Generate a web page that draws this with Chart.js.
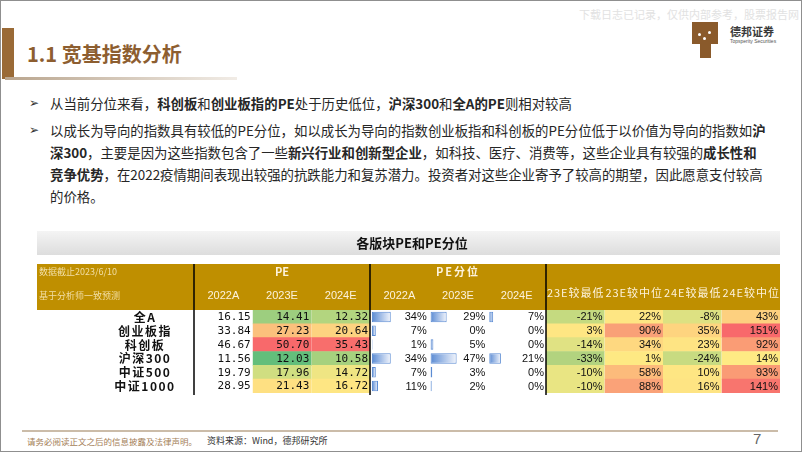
<!DOCTYPE html>
<html>
<head>
<meta charset="utf-8">
<script src="https://cdn.jsdelivr.net/npm/chart.js@4.4.1/dist/chart.umd.min.js"></script>
<style>
  body { margin: 0; width: 802px; height: 452px; position: relative; overflow: hidden; background: #fff;
         font-family: "Noto Sans CJK SC", sans-serif; color: #262626; }
  .frame { position: absolute; left: 0; top: 0; width: 800px; height: 450px; border: 1px solid #8f8f8f; }
  .abs { position: absolute; white-space: nowrap; }
  .strip { left: 2px; top: 28px; width: 12px; height: 51px; background: #9a6a36; }
  .title { left: 27px; top: 40px; font-size: 20px; font-weight: bold; color: #8d5e30; line-height: 28px; }
  .uline { left: 5px; top: 77px; width: 232px; height: 3px; background: linear-gradient(to right, #b9a58e, #f1ece6); }
  .wm { right: 3px; top: 6px; font-size: 11px; color: #e2e2e2; }
  .logo-top { left: 692px; top: 22px; width: 26px; height: 22px; background: #8a5a2b; }
  .logo-stem { left: 700px; top: 44px; width: 11px; height: 14px; background: #8a5a2b; }
  .dot { width: 3px; height: 3px; background: #fff; border-radius: 2px; }
  .brand { left: 730px; top: 24px; font-size: 11px; font-weight: bold; color: #3a3a3a; line-height: 14px; }
  .brand-en { left: 730px; top: 38px; font-size: 5px; color: #555; font-family: "Liberation Sans", sans-serif; }
  .line { font-size: 13.4px; line-height: 22px; left: 50px; }
  .arrow { left: 29px; font-size: 12px; line-height: 22px; font-family: "DejaVu Sans", sans-serif; color: #333; }
  #tableChart { position: absolute; left: 37px; top: 231px; }
  .fline { left: 22px; top: 430px; width: 756px; height: 2px; background: #cbbca9; }
  .fnote { left: 27px; top: 434px; font-size: 8.5px; color: #a47e57; line-height: 14px; }
  .fsrc { left: 207px; top: 434px; font-size: 9px; color: #333; line-height: 14px; }
  .pnum { left: 753px; top: 430px; font-size: 15px; color: #666; font-family: "Liberation Sans", sans-serif; line-height: 18px; }
</style>
</head>
<body>
<div class="frame"></div>
<div class="abs wm">下载日志已记录，仅供内部参考，股票报告网</div>
<div class="abs strip"></div>
<div class="abs title">1.1 宽基指数分析</div>
<div class="abs uline"></div>
<div class="abs logo-top"></div>
<div class="abs logo-stem"></div>
<div class="abs dot" style="left:698px;top:33px"></div>
<div class="abs dot" style="left:703px;top:37px"></div>
<div class="abs dot" style="left:708px;top:31px"></div>
<div class="abs brand">德邦证券</div>
<div class="abs brand-en">Topsperity Securities</div>

<div class="abs arrow" style="top:92px">➢</div>
<div class="abs line" style="top:92px">从当前分位来看，<b>科创板</b>和<b>创业板指的PE</b>处于历史低位，<b>沪深300</b>和<b>全A的PE</b>则相对较高</div>
<div class="abs arrow" style="top:119px">➢</div>
<div class="abs line" style="top:119px">以成长为导向的指数具有较低的PE分位，如以成长为导向的指数创业板指和科创板的PE分位低于以价值为导向的指数如<b>沪</b></div>
<div class="abs line" style="top:141px"><b>深300</b>，主要是因为这些指数包含了一些<b>新兴行业和创新型企业</b>，如科技、医疗、消费等，这些企业具有较强的<b>成长性和</b></div>
<div class="abs line" style="top:163px"><b>竞争优势</b>，在2022疫情期间表现出较强的抗跌能力和复苏潜力。投资者对这些企业寄予了较高的期望，因此愿意支付较高</div>
<div class="abs line" style="top:185px">的价格。</div>

<canvas id="tableChart" width="743" height="165"></canvas>

<div class="abs fline"></div>
<div class="abs fnote">请务必阅读正文之后的信息披露及法律声明。</div>
<div class="abs fsrc">资料来源：Wind，德邦研究所</div>
<div class="abs pnum">7</div>

<script>
// 表格数据
const tableTitle = "各版块PE和PE分位";
const indexNames = ["全A", "创业板指", "科创板", "沪深300", "中证500", "中证1000"];
const years = ["2022A", "2023E", "2024E"];
const pe2022A = [16.15, 33.84, 46.67, 11.56, 19.79, 28.95];
const pe2023E = [14.41, 27.23, 50.70, 12.03, 17.96, 21.43];
const pe2024E = [12.32, 20.64, 35.43, 10.58, 14.72, 16.72];
const pct2022A = [34, 7, 1, 34, 7, 11];
const pct2023E = [29, 0, 5, 47, 3, 2];
const pct2024E = [7, 0, 0, 21, 0, 0];
const vsLabels = ["23E较最低", "23E较中位", "24E较最低", "24E较中位"];
const low23 = [-21, 3, -14, -33, -10, -10];
const mid23 = [22, 90, 34, 1, 58, 88];
const low24 = [-8, 35, 23, -24, 10, 16];
const mid24 = [43, 151, 92, 14, 93, 141];

// 单元格颜色
const colPE23 = ["#9dce7f", "#fbc07c", "#f8696b", "#63be7b", "#d0de81", "#fee082"];
const colPE24 = ["#b3d57f", "#fdd380", "#f86e6c", "#a6d17e", "#efe583", "#fee683"];
const colLow23 = ["#c5da80", "#fee683", "#e0e283", "#b2d37f", "#e9e583", "#e9e583"];
const colMid23 = ["#fee683", "#f9a077", "#fed880", "#fee983", "#fcbb7b", "#faa278"];
const colLow24 = ["#dde182", "#fed47f", "#fee483", "#c8db81", "#fee683", "#fee483"];
const colMid24 = ["#fdd07f", "#f8696b", "#fa9c75", "#feea84", "#fa9b75", "#f8756e"];

const HEADER_BG = "#bf8f00";
const HEADER_TXT = "#fdf3dc";
const BAR_BLUE = "#5b8bd3";

// 列（每列一个横轴，按宽度堆叠）
const cols = [
  { id: "xName", w: 157 },
  { id: "xPe0", w: 58.67 }, { id: "xPe1", w: 58.67 }, { id: "xPe2", w: 58.66 },
  { id: "xPct0", w: 58.67 }, { id: "xPct1", w: 58.67 }, { id: "xPct2", w: 58.66 },
  { id: "xV0", w: 58.5 }, { id: "xV1", w: 58.5 }, { id: "xV2", w: 58.5 }, { id: "xV3", w: 58.5 }
];

const scales = {
  y: { type: "category", labels: indexNames, offset: true, display: false }
};
cols.forEach(c => {
  const isPct = c.id.startsWith("xPct");
  scales[c.id] = {
    type: "linear", position: "bottom", stack: "cols", stackWeight: c.w, display: false,
    min: isPct ? -3.5 : 0, max: isPct ? 102.5 : 1
  };
});

const cell = (id, colors) => ({
  data: indexNames.map(() => [0, 1]),
  xAxisID: id, backgroundColor: colors, borderWidth: 0,
  barPercentage: 1, categoryPercentage: 1, grouped: false
});

const pctBar = (id, values) => ({
  data: values,
  xAxisID: id, grouped: false,
  barPercentage: 0.76, categoryPercentage: 1,
  borderColor: BAR_BLUE, borderWidth: 1, borderSkipped: false,
  backgroundColor: (c) => {
    const chart = c.chart;
    if (!chart.chartArea || c.dataIndex === undefined) return BAR_BLUE;
    const sc = chart.scales[id];
    const x0 = sc.getPixelForValue(0);
    const x1 = Math.max(sc.getPixelForValue(values[c.dataIndex]), x0 + 1);
    const g = chart.ctx.createLinearGradient(x0, 0, x1, 0);
    g.addColorStop(0, BAR_BLUE);
    g.addColorStop(1, "#f2f5fc");
    return g;
  }
});

function setSpacing(ctx, v) { if ("letterSpacing" in ctx) ctx.letterSpacing = v; }

const tablePlugin = {
  id: "tableFrame",
  beforeDatasetsDraw(chart) {
    const { ctx, chartArea, scales: s } = chart;
    const L = chartArea.left, W = chartArea.right - chartArea.left;
    const hTop = chartArea.top - 46;
    ctx.save();
    // 标题条
    const g = ctx.createLinearGradient(0, 0, 0, 24);
    g.addColorStop(0, "#f4f4f4");
    g.addColorStop(1, "#dddddd");
    ctx.fillStyle = g;
    ctx.fillRect(L, 0, W, 24);
    ctx.fillStyle = "#111";
    ctx.font = 'bold 13px "Noto Sans CJK SC"';
    ctx.textAlign = "center";
    ctx.textBaseline = "middle";
    ctx.fillText(tableTitle, L + 375, 12);
    // 表头
    ctx.fillStyle = HEADER_BG;
    ctx.fillRect(L, hTop, W, 46);
    ctx.fillStyle = "#f2dfa6";
    ctx.font = '9px "Noto Sans CJK SC"';
    ctx.textAlign = "left";
    ctx.fillText("数据截止2023/6/10", L + 2, hTop + 8);
    ctx.fillText("基于分析师一致预测", L + 2, hTop + 32);
    ctx.fillStyle = HEADER_TXT;
    ctx.textAlign = "center";
    ctx.font = 'bold 11px "Noto Sans CJK SC"';
    const mid = (a, b) => (s[a].left + s[b].right) / 2;
    ctx.fillText("PE", mid("xPe0", "xPe2"), hTop + 8);
    setSpacing(ctx, "2px");
    ctx.fillText("PE分位", mid("xPct0", "xPct2"), hTop + 8);
    setSpacing(ctx, "0px");
    ctx.font = '11px "Liberation Sans"';
    ["xPe", "xPct"].forEach(p => years.forEach((y, i) => {
      const sc = s[p + i];
      ctx.fillText(y, (sc.left + sc.right) / 2, hTop + 32);
    }));
    ctx.font = '11px "Noto Sans CJK SC"';
    setSpacing(ctx, "1px");
    vsLabels.forEach((t, i) => {
      const sc = s["xV" + i];
      ctx.fillText(t, (sc.left + sc.right) / 2 + 0.5, hTop + 29);
    });
    setSpacing(ctx, "0px");
    ctx.restore();
  },
  afterDatasetsDraw(chart) {
    const { ctx, chartArea, scales: s } = chart;
    const yS = s.y;
    ctx.save();
    ctx.textBaseline = "middle";
    ctx.fillStyle = "#111";
    // 名称
    ctx.font = 'bold 12px "Noto Sans CJK SC"';
    ctx.textAlign = "center";
    setSpacing(ctx, "1.5px");
    indexNames.forEach((n, i) => ctx.fillText(n, s.xName.left + 108, yS.getPixelForValue(i) + 0.5));
    setSpacing(ctx, "0px");
    // PE
    ctx.textAlign = "right";
    ctx.font = '11px "DejaVu Sans Mono"';
    [pe2022A, pe2023E, pe2024E].forEach((arr, c) => {
      const sc = s["xPe" + c];
      arr.forEach((v, i) => ctx.fillText(v.toFixed(2), sc.right - 2, yS.getPixelForValue(i) + 0.5));
    });
    // 百分比
    ctx.font = '11px "Liberation Sans"';
    [pct2022A, pct2023E, pct2024E].forEach((arr, c) => {
      const sc = s["xPct" + c];
      arr.forEach((v, i) => ctx.fillText(v + "%", sc.right - 2, yS.getPixelForValue(i) + 0.5));
    });
    [low23, mid23, low24, mid24].forEach((arr, c) => {
      const sc = s["xV" + c];
      arr.forEach((v, i) => ctx.fillText(v + "%", sc.right - 2, yS.getPixelForValue(i) + 0.5));
    });
    // 竖线
    ctx.strokeStyle = "#000";
    ctx.lineWidth = 1.5;
    ["xPe0", "xPct0", "xV0"].forEach(id => {
      const x = Math.round(s[id].left);
      ctx.beginPath();
      ctx.moveTo(x, chartArea.top - 46);
      ctx.lineTo(x, chartArea.bottom + 2);
      ctx.stroke();
    });
    ctx.restore();
  }
};

new Chart(document.getElementById("tableChart"), {
  type: "bar",
  data: {
    labels: indexNames,
    datasets: [
      cell("xPe1", colPE23),
      cell("xPe2", colPE24),
      pctBar("xPct0", pct2022A),
      pctBar("xPct1", pct2023E),
      pctBar("xPct2", pct2024E),
      cell("xV0", colLow23),
      cell("xV1", colMid23),
      cell("xV2", colLow24),
      cell("xV3", colMid24)
    ]
  },
  options: {
    indexAxis: "y",
    responsive: false,
    animation: false,
    layout: { padding: { top: 79, bottom: 3, left: 0, right: 0 } },
    scales: scales,
    plugins: { legend: { display: false }, tooltip: { enabled: false } }
  },
  plugins: [tablePlugin]
});
</script>
</body>
</html>
